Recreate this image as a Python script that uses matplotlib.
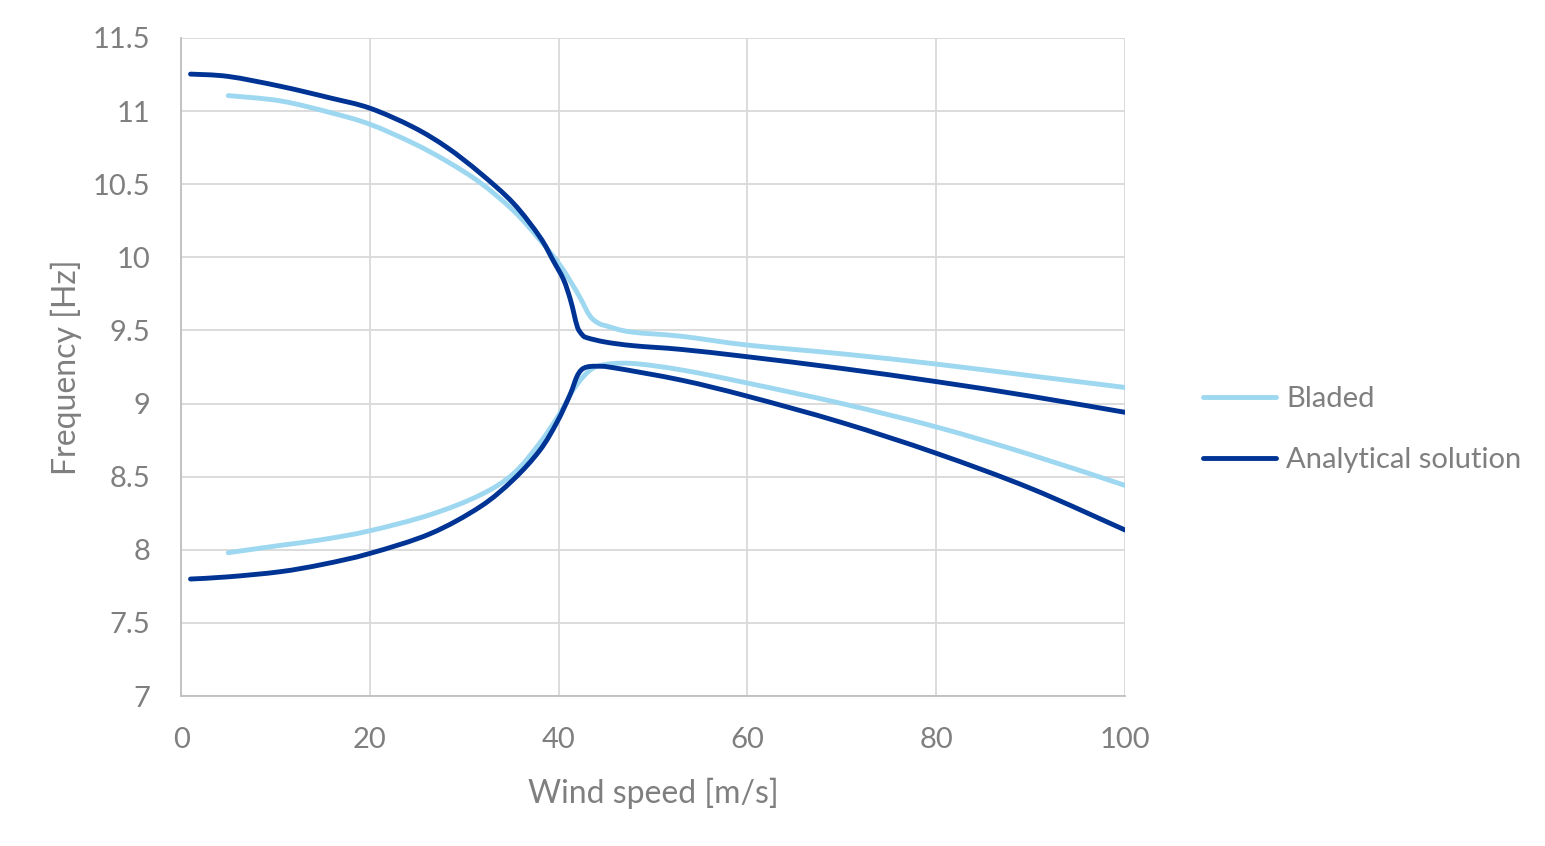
import matplotlib.pyplot as plt
import numpy as np
from matplotlib.path import Path
from matplotlib.patches import PathPatch
from matplotlib.lines import Line2D

plt.rcParams['font.family'] = ['Lato', 'DejaVu Sans']

# wind speed [m/s] and frequency [Hz]
x_an_up = [1, 5, 10.5, 15.8, 20, 24.6, 28.2, 31.7, 35.2, 38, 39.4, 40.5, 41.2, 41.6,
           42, 42.5, 43, 45, 48, 53, 60, 70, 80, 90, 100]
an_upper = [11.253, 11.237, 11.17, 11.09, 11.02, 10.89, 10.75, 10.575, 10.37, 10.14,
            9.98, 9.85, 9.72, 9.62, 9.52, 9.47, 9.45, 9.42, 9.395, 9.37, 9.32, 9.24,
            9.15, 9.05, 8.94]

x_an_lo = [1, 5, 10.5, 15, 20, 26.4, 31.7, 35.2, 38, 39.8, 41.2, 41.9, 42.4, 43, 44,
           45.8, 53, 60, 70, 80, 90, 100]
an_lower = [7.80, 7.815, 7.85, 7.90, 7.975, 8.11, 8.295, 8.48, 8.68, 8.87, 9.06, 9.18,
            9.23, 9.25, 9.255, 9.245, 9.16, 9.05, 8.87, 8.66, 8.42, 8.135]

x_bl_up = [5, 10.5, 15.8, 20, 24.6, 28.2, 31.7, 35.2, 38, 40.1, 41.3, 42.3, 43.3, 44.2,
           45.1, 47.6, 53, 60, 70, 80, 90, 100]
bl_upper = [11.106, 11.07, 10.99, 10.91, 10.78, 10.655, 10.51, 10.32, 10.12, 9.95, 9.83,
            9.72, 9.60, 9.55, 9.53, 9.49, 9.46, 9.40, 9.34, 9.27, 9.19, 9.11]

x_bl_lo = [5, 10.5, 15, 20, 26.4, 31.7, 35.2, 38, 40.1, 41.5, 43, 44.4, 47.6, 53, 60,
           70, 80, 90, 100]
bl_lower = [7.98, 8.03, 8.07, 8.13, 8.24, 8.375, 8.52, 8.73, 8.93, 9.09, 9.21, 9.26,
            9.275, 9.23, 9.14, 9.00, 8.84, 8.65, 8.44]

light = '#9dd7f0'
dark = '#003494'
grey = '#7f7f7f'


def smooth_path(x, y, sx=9.44, sy=146.2):
    # Excel-style smoothed line: cubic Bezier through the points
    p = np.column_stack([np.asarray(x) * sx, np.asarray(y) * sy])
    q = np.vstack([p[0], p, p[-1]])
    verts = [p[0]]
    codes = [Path.MOVETO]
    for i in range(len(p) - 1):
        c1 = q[i + 1] + (q[i + 2] - q[i]) / 6
        c2 = q[i + 2] - (q[i + 3] - q[i + 1]) / 6
        verts += [c1, c2, p[i + 1]]
        codes += [Path.CURVE4] * 3
    verts = np.array(verts) / [sx, sy]
    return Path(verts, codes)


fig = plt.figure(figsize=(15.45, 8.46), dpi=100)
ax = fig.add_axes([0.1172, 0.1773, 0.6110, 0.7778])

series = [(x_bl_up, bl_upper, light, 3), (x_bl_lo, bl_lower, light, 3),
          (x_an_up, an_upper, dark, 4), (x_an_lo, an_lower, dark, 4)]
for xs, ys, c, z in series:
    ax.add_patch(PathPatch(smooth_path(xs, ys), fill=False, edgecolor=c, lw=3.5,
                           capstyle='round', joinstyle='round', zorder=z))

ax.set_xlim(0, 100)
ax.set_ylim(7, 11.5)
ax.set_xticks(np.arange(0, 101, 20))
ax.set_yticks(np.arange(7, 11.51, 0.5))
ax.set_yticklabels(['7', '7.5', '8', '8.5', '9', '9.5', '10', '10.5', '11', '11.5'])
ax.grid(color='#d9d9d9', lw=1.3, zorder=0)
ax.set_axisbelow(True)
for s in ['top', 'right']:
    ax.spines[s].set_visible(False)
for s in ['left', 'bottom']:
    ax.spines[s].set_color('#bfbfbf')
    ax.spines[s].set_linewidth(1.3)
ax.tick_params(length=0, labelsize=21, colors=grey, pad=22)

ax.set_xlabel('Wind speed [m/s]', fontsize=23, color=grey, labelpad=18)
ax.set_ylabel('Frequency [Hz]', fontsize=23, color=grey, labelpad=8)

handles = [Line2D([], [], color=light, lw=3.5, solid_capstyle='round'),
           Line2D([], [], color=dark, lw=3.5, solid_capstyle='round')]
ax.legend(handles, ['Bladed', 'Analytical solution'], loc='center left',
          bbox_to_anchor=(1.055, 0.405), frameon=False, fontsize=21,
          labelcolor=grey, handlelength=2.5, handletextpad=0.35, labelspacing=1.2)

fig.savefig('out.png', dpi=100)
